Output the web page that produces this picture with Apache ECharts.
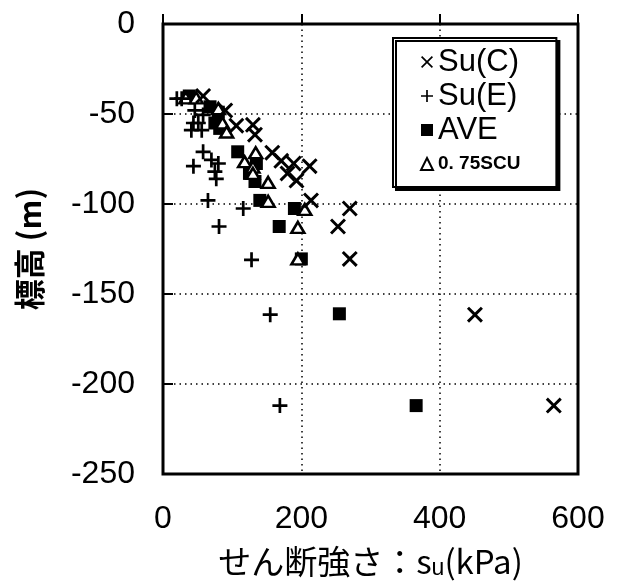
<!DOCTYPE html>
<html>
<head>
<meta charset="utf-8">
<script src="https://cdn.jsdelivr.net/npm/echarts@6/dist/echarts.min.js"></script>
<style>
  html, body { margin: 0; padding: 0; background: #fff; }
  #chart { width: 622px; height: 584px; }
</style>
</head>
<body>
<div id="chart"></div>
<script>
// Undrained shear strength vs. elevation
const xTicks = [0, 200, 400, 600];
const yTicks = [0, -50, -100, -150, -200, -250];

const seriesNames = ['Su(C)', 'Su(E)', 'AVE', '0. 75SCU'];

// [su (kPa), elevation (m)]
const suC = [
  [58, -40], [90, -48], [106, -56.5], [130, -56], [133, -61.5],
  [158, -71.5], [171, -76], [189, -77.5], [212, -79], [180, -83], [193, -87],
  [214, -98], [270, -102.5], [253, -112.5], [270, -130.5],
  [451, -161.5], [565, -212]
];
const suE = [
  [20, -41.5], [27, -41.5], [46, -48], [58, -50.5], [44, -55], [51, -55],
  [41, -59], [56, -59],
  [58, -71], [70, -75.5], [44, -79], [80, -77.5], [75, -82], [77, -86],
  [65, -98], [116, -102.5], [81, -112.5], [128, -131],
  [155, -161.5], [169, -212]
];
const ave = [
  [38, -40], [68, -46], [80, -49], [75, -55], [82, -58],
  [108, -71], [135, -77.5], [125, -83], [133, -87.5],
  [140, -98], [190, -102.5], [168, -112.5], [200, -130.5],
  [255, -161], [366, -212]
];
const scu = [
  [33, -41], [48, -41], [80, -47], [86, -55], [92, -60],
  [134, -71.5], [118, -76.5], [130, -79.5], [130, -83], [152, -88],
  [152, -98.5], [205, -103], [195, -113], [195, -130.5]
];

// marker outlines on a 100x100 box
const PLUS = 'path://M41,0H59V41H100V59H59V100H41V59H0V41H41Z';
const CROSS = 'path://M13,0L50,37L87,0L100,13L63,50L100,87L87,100L50,63L13,100L0,87L37,50L0,13Z';
const CROSS_THIN = 'path://M10,0L50,40L90,0L100,10L60,50L100,90L90,100L50,60L10,100L0,90L40,50L0,10Z';
const PLUS_THIN = 'path://M43,0H57V43H100V57H57V100H43V57H0V43H43Z';

const chart = echarts.init(document.getElementById('chart'), null, { renderer: 'canvas' });

const tickFont = { fontFamily: "'Liberation Sans', Arial, sans-serif", fontSize: 32, color: '#000' };
const gridLine = { show: true, lineStyle: { color: '#000', width: 1.5, type: [1.5, 4] } };

chart.setOption({
  backgroundColor: '#fff',
  animation: false,
  grid: {
    left: 163, right: 44, top: 24, bottom: 110,
    outerBoundsMode: 'none',
    show: true, borderColor: '#000', borderWidth: 3, backgroundColor: 'transparent'
  },
  xAxis: {
    type: 'value', min: xTicks[0], max: xTicks[xTicks.length - 1], interval: 200,
    name: '{a|せん断強さ：s}{b|u}{a|(kPa)}',
    nameLocation: 'middle', nameGap: 68,
    nameTextStyle: {
      rich: {
        a: { fontFamily: "'Noto Sans CJK JP', 'Liberation Sans', sans-serif", fontSize: 33, color: '#000', lineHeight: 38 },
        b: { fontFamily: "'Liberation Sans', sans-serif", fontSize: 23, color: '#000', lineHeight: 23, verticalAlign: 'bottom' }
      }
    },
    axisLine: { show: false },
    axisTick: { show: true, inside: true, length: 10, lineStyle: { color: '#000', width: 2 } },
    axisLabel: Object.assign({ margin: 29 }, tickFont),
    splitLine: gridLine
  },
  yAxis: {
    type: 'value', min: yTicks[yTicks.length - 1], max: yTicks[0], interval: 50,
    name: '標高 (m)',
    nameLocation: 'middle', nameGap: 118, nameRotate: 90,
    nameTextStyle: {
      fontFamily: "'Noto Sans CJK JP', 'Liberation Sans', sans-serif",
      fontSize: 31, fontWeight: 'bold', color: '#000'
    },
    axisLine: { show: false },
    axisTick: { show: true, inside: true, length: 10, lineStyle: { color: '#000', width: 2 } },
    axisLabel: Object.assign({ margin: 28 }, tickFont),
    splitLine: gridLine
  },
  legend: {
    orient: 'vertical',
    left: 393, top: 38,
    padding: [7, 36, 6, 27],
    itemGap: 0,
    itemWidth: 12, itemHeight: 12,
    selectedMode: false,
    backgroundColor: '#fff',
    borderColor: '#000', borderWidth: 2,
    shadowColor: '#000', shadowBlur: 0, shadowOffsetX: 3, shadowOffsetY: 3,
    textStyle: { fontFamily: "'Liberation Sans', Arial, sans-serif", fontSize: 31, color: '#000', lineHeight: 34 },
    data: [
      { name: seriesNames[0], icon: CROSS_THIN, itemStyle: { color: '#000' } },
      { name: seriesNames[1], icon: PLUS_THIN, itemStyle: { color: '#000' } },
      { name: seriesNames[2], icon: 'rect' },
      { name: seriesNames[3], icon: 'triangle',
        textStyle: { fontFamily: "'Liberation Sans', Arial, sans-serif", fontWeight: 'bold', fontSize: 19, lineHeight: 34 } }
    ]
  },
  series: [
    {
      name: seriesNames[2], type: 'scatter', data: ave,
      symbol: 'rect', symbolSize: 13,
      itemStyle: { color: '#000', opacity: 1 }
    },
    {
      name: seriesNames[3], type: 'scatter', data: scu,
      symbol: 'triangle', symbolSize: [13, 11],
      itemStyle: { color: '#fff', borderColor: '#000', borderWidth: 2.5, opacity: 1 }
    },
    {
      name: seriesNames[0], type: 'scatter', data: suC,
      symbol: CROSS, symbolSize: 16,
      itemStyle: { color: '#000', opacity: 1 }
    },
    {
      name: seriesNames[1], type: 'scatter', data: suE,
      symbol: PLUS, symbolSize: 15,
      itemStyle: { color: '#000', opacity: 1 }
    }
  ]
});
</script>
</body>
</html>
